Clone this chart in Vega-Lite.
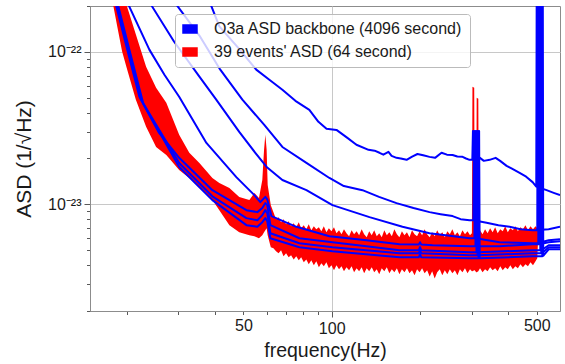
{
"$schema": "https://vega.github.io/schema/vega-lite/v6.json",
"width": 470, "height": 305,
"autosize": {"type": "none"},
"padding": {"left": 90, "top": 6, "right": 5, "bottom": 53},
"config": {
 "view": {"stroke": "#8c8c8c", "strokeWidth": 1},
 "font": "Liberation Sans",
 "axis": {"labelFont": "Liberation Sans", "labelFontSize": 16, "labelColor": "#1a1a1a", "titleFont": "Liberation Sans", "titleFontWeight": "normal", "titleColor": "#1a1a1a", "domainColor": "#8c8c8c", "tickColor": "#595959", "gridColor": "#c8c8c8", "labelOverlap": false, "labelFlush": false}
},
"datasets": {
"red": [
{"f":17.2,"hi":4.05e-22,"lo":2.28e-22},
{"f":18.0,"hi":2.99e-22,"lo":2.02e-22},
{"f":18.6,"hi":2.28e-22,"lo":1.45e-22},
{"f":19.3,"hi":2.38e-22,"lo":1.005e-22},
{"f":20.0,"hi":2.02e-22,"lo":7.88e-23},
{"f":21.5,"hi":1.30e-22,"lo":4.86e-23},
{"f":23.3,"hi":8.0e-23,"lo":3.23e-23},
{"f":25.2,"hi":5.82e-23,"lo":2.38e-23},
{"f":27.3,"hi":4.64e-23,"lo":2.11e-23},
{"f":30.2,"hi":2.86e-23,"lo":1.68e-23},
{"f":32.7,"hi":2.18e-23,"lo":1.49e-23},
{"f":35.4,"hi":1.87e-23,"lo":1.28e-23},
{"f":39.2,"hi":1.49e-23,"lo":1.067e-23},
{"f":41.4,"hi":1.38e-23,"lo":9.17e-24},
{"f":44.8,"hi":1.28e-23,"lo":7.31e-24},
{"f":48.4,"hi":1.117e-23,"lo":6.57e-24},
{"f":52.4,"hi":1.067e-23,"lo":6.28e-24},
{"f":54.5,"hi":1.187e-23,"lo":6.19e-24},
{"f":56.5,"hi":1.10e-23,"lo":6.00e-24},
{"f":58.0,"hi":1.445e-23,"lo":6.28e-24},
{"f":58.8,"hi":2.28e-23,"lo":6.57e-24},
{"f":59.4,"hi":2.86e-23,"lo":6.78e-24},
{"f":60.0,"hi":2.28e-23,"lo":6.98e-24},
{"f":60.5,"hi":1.34e-23,"lo":6.28e-24},
{"f":62,"hi":9.89e-24,"lo":5.24e-24},
{"f":63.3,"hi":8.90e-24,"lo":5.16e-24},
{"f":64.6,"hi":8.00e-24,"lo":4.93e-24},
{"f":65.9,"hi":8.25e-24,"lo":4.78e-24},
{"f":67.2,"hi":7.65e-24,"lo":5.00e-24},
{"f":68.5,"hi":8.00e-24,"lo":4.57e-24},
{"f":69.9,"hi":7.42e-24,"lo":4.78e-24},
{"f":71.3,"hi":7.76e-24,"lo":4.50e-24},
{"f":72.7,"hi":7.20e-24,"lo":4.64e-24},
{"f":74.2,"hi":7.53e-24,"lo":4.36e-24},
{"f":75.7,"hi":7.09e-24,"lo":4.57e-24},
{"f":77.2,"hi":7.65e-24,"lo":4.30e-24},
{"f":78.7,"hi":6.98e-24,"lo":4.50e-24},
{"f":80.3,"hi":7.31e-24,"lo":4.17e-24},
{"f":81.9,"hi":6.88e-24,"lo":4.36e-24},
{"f":83.5,"hi":7.42e-24,"lo":4.05e-24},
{"f":85.2,"hi":6.78e-24,"lo":4.30e-24},
{"f":86.9,"hi":7.20e-24,"lo":3.99e-24},
{"f":88.6,"hi":6.88e-24,"lo":4.24e-24},
{"f":90.4,"hi":7.09e-24,"lo":3.87e-24},
{"f":92.2,"hi":6.67e-24,"lo":4.11e-24},
{"f":94.0,"hi":7.20e-24,"lo":3.93e-24},
{"f":95.9,"hi":6.57e-24,"lo":4.17e-24},
{"f":97.8,"hi":6.98e-24,"lo":3.81e-24},
{"f":99.8,"hi":6.67e-24,"lo":3.99e-24},
{"f":101.8,"hi":7.09e-24,"lo":3.70e-24},
{"f":103.8,"hi":6.47e-24,"lo":3.99e-24},
{"f":105.9,"hi":6.78e-24,"lo":3.75e-24},
{"f":108.0,"hi":6.38e-24,"lo":3.93e-24},
{"f":110.1,"hi":6.88e-24,"lo":3.64e-24},
{"f":112.3,"hi":6.47e-24,"lo":3.87e-24},
{"f":114.6,"hi":6.19e-24,"lo":3.70e-24},
{"f":116.9,"hi":6.78e-24,"lo":3.93e-24},
{"f":119.2,"hi":6.38e-24,"lo":3.59e-24},
{"f":121.6,"hi":6.67e-24,"lo":3.81e-24},
{"f":124.0,"hi":6.28e-24,"lo":3.64e-24},
{"f":126.5,"hi":6.88e-24,"lo":3.87e-24},
{"f":129.0,"hi":6.38e-24,"lo":3.53e-24},
{"f":131.6,"hi":6.09e-24,"lo":3.81e-24},
{"f":134.2,"hi":6.67e-24,"lo":3.64e-24},
{"f":136.9,"hi":6.28e-24,"lo":3.87e-24},
{"f":139.6,"hi":6.78e-24,"lo":3.59e-24},
{"f":142.4,"hi":6.19e-24,"lo":3.75e-24},
{"f":145.2,"hi":6.47e-24,"lo":3.48e-24},
{"f":148.1,"hi":6.09e-24,"lo":3.81e-24},
{"f":151.1,"hi":6.78e-24,"lo":3.64e-24},
{"f":154.1,"hi":6.28e-24,"lo":3.87e-24},
{"f":157.2,"hi":6.57e-24,"lo":3.53e-24},
{"f":160.3,"hi":6.19e-24,"lo":3.75e-24},
{"f":163.5,"hi":6.88e-24,"lo":3.59e-24},
{"f":166.8,"hi":6.38e-24,"lo":3.81e-24},
{"f":170.1,"hi":6.09e-24,"lo":3.48e-24},
{"f":173.5,"hi":6.67e-24,"lo":3.75e-24},
{"f":177.0,"hi":6.28e-24,"lo":3.59e-24},
{"f":180.5,"hi":6.57e-24,"lo":3.81e-24},
{"f":184.1,"hi":6.09e-24,"lo":3.53e-24},
{"f":187.8,"hi":6.78e-24,"lo":3.70e-24},
{"f":191.6,"hi":6.38e-24,"lo":3.43e-24},
{"f":195.4,"hi":6.19e-24,"lo":3.75e-24},
{"f":199.3,"hi":6.67e-24,"lo":3.59e-24},
{"f":203.3,"hi":6.28e-24,"lo":3.81e-24},
{"f":207.3,"hi":6.88e-24,"lo":3.53e-24},
{"f":211.5,"hi":6.38e-24,"lo":3.70e-24},
{"f":215.7,"hi":6.09e-24,"lo":3.37e-24},
{"f":220.0,"hi":6.57e-24,"lo":3.64e-24},
{"f":224.4,"hi":6.19e-24,"lo":3.27e-24},
{"f":228.9,"hi":6.78e-24,"lo":3.59e-24},
{"f":233.5,"hi":6.28e-24,"lo":3.75e-24},
{"f":238.2,"hi":6.57e-24,"lo":3.43e-24},
{"f":242.9,"hi":6.09e-24,"lo":3.70e-24},
{"f":247.8,"hi":6.67e-24,"lo":3.48e-24},
{"f":252.7,"hi":6.38e-24,"lo":3.75e-24},
{"f":257.8,"hi":6.88e-24,"lo":3.53e-24},
{"f":262.9,"hi":6.28e-24,"lo":3.70e-24},
{"f":268.2,"hi":6.57e-24,"lo":3.43e-24},
{"f":273.5,"hi":6.19e-24,"lo":3.75e-24},
{"f":279.0,"hi":6.78e-24,"lo":3.59e-24},
{"f":284.6,"hi":6.38e-24,"lo":3.81e-24},
{"f":290.3,"hi":6.67e-24,"lo":3.53e-24},
{"f":296.1,"hi":6.28e-24,"lo":3.75e-24},
{"f":300.5,"hi":6.47e-24,"lo":3.64e-24},
{"f":301.8,"hi":5.91e-23,"lo":3.64e-24},
{"f":306.0,"hi":5.82e-23,"lo":3.70e-24},
{"f":307.3,"hi":6.38e-24,"lo":3.70e-24},
{"f":310.8,"hi":6.57e-24,"lo":3.59e-24},
{"f":312.0,"hi":5.00e-23,"lo":3.59e-24},
{"f":316.0,"hi":4.93e-23,"lo":3.64e-24},
{"f":317.3,"hi":6.47e-24,"lo":3.70e-24},
{"f":320.3,"hi":6.78e-24,"lo":3.81e-24},
{"f":326.7,"hi":6.38e-24,"lo":3.59e-24},
{"f":333.2,"hi":6.88e-24,"lo":3.75e-24},
{"f":339.9,"hi":6.47e-24,"lo":3.64e-24},
{"f":346.7,"hi":6.98e-24,"lo":3.87e-24},
{"f":353.6,"hi":6.57e-24,"lo":3.70e-24},
{"f":360.7,"hi":7.09e-24,"lo":3.81e-24},
{"f":367.9,"hi":6.47e-24,"lo":3.64e-24},
{"f":375.3,"hi":6.88e-24,"lo":3.93e-24},
{"f":382.8,"hi":6.67e-24,"lo":3.70e-24},
{"f":390.4,"hi":7.20e-24,"lo":3.87e-24},
{"f":398.2,"hi":6.57e-24,"lo":3.75e-24},
{"f":406.2,"hi":6.98e-24,"lo":3.99e-24},
{"f":414.3,"hi":6.78e-24,"lo":3.75e-24},
{"f":422.6,"hi":7.20e-24,"lo":3.93e-24},
{"f":431.1,"hi":6.67e-24,"lo":3.81e-24},
{"f":439.7,"hi":7.09e-24,"lo":4.05e-24},
{"f":448.5,"hi":6.88e-24,"lo":3.87e-24},
{"f":457.5,"hi":7.31e-24,"lo":4.05e-24},
{"f":466.6,"hi":6.78e-24,"lo":3.93e-24},
{"f":475.9,"hi":7.20e-24,"lo":4.17e-24},
{"f":485.4,"hi":6.88e-24,"lo":3.99e-24},
{"f":495.1,"hi":7.20e-24,"lo":4.24e-24},
{"f":502,"hi":6.98e-24,"lo":4.43e-24},
{"f":506,"hi":9.89e-24,"lo":6.28e-24}
],
"blue": [
{"id":"B1","f":35.6,"asd":2.99e-22},{"id":"B1","f":38.9,"asd":1.99e-22},{"id":"B1","f":41.4,"asd":1.47e-22},{"id":"B1","f":47.7,"asd":1.08e-22},{"id":"B1","f":55.3,"asd":7.65e-23},{"id":"B1","f":61.3,"asd":6.57e-23},{"id":"B1","f":67.9,"asd":5.65e-23},{"id":"B1","f":75.2,"asd":4.78e-23},{"id":"B1","f":83.9,"asd":4.17e-23},{"id":"B1","f":90.1,"asd":3.48e-23},{"id":"B1","f":96,"asd":3.13e-23},{"id":"B1","f":103.8,"asd":3.08e-23},{"id":"B1","f":113.1,"asd":2.73e-23},{"id":"B1","f":121.4,"asd":2.46e-23},{"id":"B1","f":133.5,"asd":2.28e-23},{"id":"B1","f":140,"asd":2.25e-23},{"id":"B1","f":145.5,"asd":2.18e-23},{"id":"B1","f":150,"asd":2.12e-23},{"id":"B1","f":156.1,"asd":2.21e-23},{"id":"B1","f":160,"asd":2.08e-23},{"id":"B1","f":166.3,"asd":2.02e-23},{"id":"B1","f":172,"asd":2.0e-23},{"id":"B1","f":180,"asd":1.96e-23},{"id":"B1","f":188,"asd":2.06e-23},{"id":"B1","f":196,"asd":2.14e-23},{"id":"B1","f":205,"asd":2.10e-23},{"id":"B1","f":215.5,"asd":2.05e-23},{"id":"B1","f":225,"asd":2.02e-23},{"id":"B1","f":236.8,"asd":2.18e-23},{"id":"B1","f":247,"asd":2.12e-23},{"id":"B1","f":258.2,"asd":2.11e-23},{"id":"B1","f":268,"asd":2.06e-23},{"id":"B1","f":279.3,"asd":2.05e-23},{"id":"B1","f":287,"asd":2.0e-23},{"id":"B1","f":295,"asd":1.96e-23},{"id":"B1","f":301.5,"asd":1.96e-23},{"id":"B1","f":303,"asd":3.03e-23},{"id":"B1","f":304.5,"asd":1.96e-23},{"id":"B1","f":320,"asd":2.02e-23},{"id":"B1","f":330,"asd":1.93e-23},{"id":"B1","f":345.3,"asd":1.96e-23},{"id":"B1","f":362,"asd":2.02e-23},{"id":"B1","f":375,"asd":1.93e-23},{"id":"B1","f":394.6,"asd":1.79e-23},{"id":"B1","f":410,"asd":1.72e-23},{"id":"B1","f":437,"asd":1.61e-23},{"id":"B1","f":460,"asd":1.52e-23},{"id":"B1","f":484,"asd":1.40e-23},{"id":"B1","f":498,"asd":1.31e-23},{"id":"B1","f":500,"asd":4e-22},{"id":"B1","f":502,"asd":1.30e-23},{"id":"B1","f":540,"asd":1.24e-23},{"id":"B1","f":571,"asd":1.19e-23},{"id":"B1","f":600,"asd":1.15e-23},
{"id":"B2","f":27.9,"asd":2.28e-22},{"id":"B2","f":29.5,"asd":2.05e-22},{"id":"B2","f":35.4,"asd":1.28e-22},{"id":"B2","f":41.7,"asd":7.65e-23},{"id":"B2","f":49.6,"asd":4.86e-23},{"id":"B2","f":58.9,"asd":3.32e-23},{"id":"B2","f":67.9,"asd":2.38e-23},{"id":"B2","f":82.0,"asd":1.87e-23},{"id":"B2","f":98.2,"asd":1.49e-23},{"id":"B2","f":110,"asd":1.32e-23},{"id":"B2","f":127.3,"asd":1.24e-23},{"id":"B2","f":145,"asd":1.12e-23},{"id":"B2","f":166.3,"asd":1.02e-23},{"id":"B2","f":190,"asd":9.46e-24},{"id":"B2","f":215.5,"asd":8.90e-24},{"id":"B2","f":235,"asd":8.63e-24},{"id":"B2","f":258.2,"asd":8.38e-24},{"id":"B2","f":275,"asd":8.0e-24},{"id":"B2","f":295,"asd":7.88e-24},{"id":"B2","f":304,"asd":7.88e-24},{"id":"B2","f":305.5,"asd":3.03e-23},{"id":"B2","f":307,"asd":7.85e-24},{"id":"B2","f":337.3,"asd":7.58e-24},{"id":"B2","f":370,"asd":7.31e-24},{"id":"B2","f":404,"asd":7.13e-24},{"id":"B2","f":440,"asd":6.88e-24},{"id":"B2","f":484,"asd":6.78e-24},{"id":"B2","f":502,"asd":6.78e-24},{"id":"B2","f":504,"asd":4e-22},{"id":"B2","f":506,"asd":6.8e-24},{"id":"B2","f":549,"asd":6.88e-24},{"id":"B2","f":600,"asd":7.13e-24},
{"id":"B3","f":23.5,"asd":2.31e-22},{"id":"B3","f":24.4,"asd":1.99e-22},{"id":"B3","f":29.0,"asd":1.17e-22},{"id":"B3","f":35.4,"asd":6.88e-23},{"id":"B3","f":40.4,"asd":4.86e-23},{"id":"B3","f":48.4,"asd":2.99e-23},{"id":"B3","f":54.9,"asd":2.18e-23},{"id":"B3","f":60,"asd":1.76e-23},{"id":"B3","f":67.9,"asd":1.445e-23},{"id":"B3","f":82.0,"asd":1.24e-23},{"id":"B3","f":100.6,"asd":9.89e-24},{"id":"B3","f":134.5,"asd":8.25e-24},{"id":"B3","f":174.3,"asd":7.13e-24},{"id":"B3","f":215.5,"asd":6.47e-24},{"id":"B3","f":295,"asd":6.00e-24},{"id":"B3","f":306.5,"asd":6.0e-24},{"id":"B3","f":308,"asd":3.03e-23},{"id":"B3","f":309.5,"asd":6.0e-24},{"id":"B3","f":373.6,"asd":5.65e-24},{"id":"B3","f":484,"asd":5.56e-24},{"id":"B3","f":506,"asd":5.56e-24},{"id":"B3","f":508,"asd":4e-22},{"id":"B3","f":510,"asd":5.6e-24},{"id":"B3","f":549,"asd":5.82e-24},{"id":"B3","f":600,"asd":5.91e-24},
{"id":"B4","f":19.6,"asd":2.31e-22},{"id":"B4","f":20.4,"asd":1.99e-22},{"id":"B4","f":23.9,"asd":1.035e-22},{"id":"B4","f":26.9,"asd":7.09e-23},{"id":"B4","f":30.2,"asd":5.08e-23},{"id":"B4","f":37.4,"asd":2.53e-23},{"id":"B4","f":47.3,"asd":1.51e-23},{"id":"B4","f":54.5,"asd":1.15e-23},{"id":"B4","f":57.1,"asd":1.035e-23},{"id":"B4","f":59.4,"asd":1.12e-23},{"id":"B4","f":60.3,"asd":1.08e-23},{"id":"B4","f":62.3,"asd":8.38e-24},{"id":"B4","f":75.8,"asd":7.13e-24},{"id":"B4","f":98.2,"asd":6.19e-24},{"id":"B4","f":131.3,"asd":5.82e-24},{"id":"B4","f":170.2,"asd":5.48e-24},{"id":"B4","f":198,"asd":5.45e-24},{"id":"B4","f":200,"asd":5.65e-24},{"id":"B4","f":202,"asd":5.45e-24},{"id":"B4","f":220.7,"asd":5.40e-24},{"id":"B4","f":295,"asd":5.32e-24},{"id":"B4","f":309,"asd":5.32e-24},{"id":"B4","f":310.5,"asd":3.03e-23},{"id":"B4","f":312,"asd":5.32e-24},{"id":"B4","f":373.6,"asd":5.32e-24},{"id":"B4","f":484,"asd":5.48e-24},{"id":"B4","f":510,"asd":5.48e-24},{"id":"B4","f":512,"asd":4e-22},{"id":"B4","f":514,"asd":5.5e-24},{"id":"B4","f":549,"asd":5.65e-24},{"id":"B4","f":600,"asd":5.74e-24},
{"id":"B5","f":17.7,"asd":2.38e-22},{"id":"B5","f":18.4,"asd":2.02e-22},{"id":"B5","f":20.1,"asd":1.035e-22},{"id":"B5","f":22.1,"asd":5.08e-23},{"id":"B5","f":25.8,"asd":2.94e-23},{"id":"B5","f":30.2,"asd":2.02e-23},{"id":"B5","f":39.2,"asd":1.24e-23},{"id":"B5","f":51.2,"asd":9.17e-24},{"id":"B5","f":55.8,"asd":8.90e-24},{"id":"B5","f":58.0,"asd":9.46e-24},{"id":"B5","f":59.4,"asd":1.02e-23},{"id":"B5","f":60.3,"asd":9.9e-24},{"id":"B5","f":61.8,"asd":7.31e-24},{"id":"B5","f":77.6,"asd":6.00e-24},{"id":"B5","f":100.6,"asd":5.65e-24},{"id":"B5","f":131.3,"asd":5.32e-24},{"id":"B5","f":170.2,"asd":5.00e-24},{"id":"B5","f":198,"asd":5.0e-24},{"id":"B5","f":200,"asd":5.25e-24},{"id":"B5","f":202,"asd":5.0e-24},{"id":"B5","f":295,"asd":4.86e-24},{"id":"B5","f":311.5,"asd":4.86e-24},{"id":"B5","f":313,"asd":3.03e-23},{"id":"B5","f":314.5,"asd":4.86e-24},{"id":"B5","f":484,"asd":5.00e-24},{"id":"B5","f":514,"asd":5.0e-24},{"id":"B5","f":516,"asd":4e-22},{"id":"B5","f":518,"asd":5.0e-24},{"id":"B5","f":549,"asd":5.40e-24},{"id":"B5","f":600,"asd":5.40e-24},
{"id":"B6","f":17.9,"asd":2.38e-22},{"id":"B6","f":18.6,"asd":2.02e-22},{"id":"B6","f":20.4,"asd":1.005e-22},{"id":"B6","f":22.4,"asd":4.86e-23},{"id":"B6","f":30.2,"asd":1.87e-23},{"id":"B6","f":39.2,"asd":1.13e-23},{"id":"B6","f":51.2,"asd":8.13e-24},{"id":"B6","f":55.8,"asd":7.88e-24},{"id":"B6","f":58.0,"asd":8.51e-24},{"id":"B6","f":59.4,"asd":9.17e-24},{"id":"B6","f":60.3,"asd":8.76e-24},{"id":"B6","f":61.8,"asd":6.47e-24},{"id":"B6","f":77.6,"asd":5.56e-24},{"id":"B6","f":100.6,"asd":5.24e-24},{"id":"B6","f":170.2,"asd":4.78e-24},{"id":"B6","f":198,"asd":4.78e-24},{"id":"B6","f":200,"asd":5.0e-24},{"id":"B6","f":202,"asd":4.78e-24},{"id":"B6","f":295,"asd":4.64e-24},{"id":"B6","f":314,"asd":4.64e-24},{"id":"B6","f":315.5,"asd":3.03e-23},{"id":"B6","f":317,"asd":4.64e-24},{"id":"B6","f":484,"asd":4.78e-24},{"id":"B6","f":518,"asd":4.78e-24},{"id":"B6","f":520,"asd":4e-22},{"id":"B6","f":522,"asd":4.8e-24},{"id":"B6","f":549,"asd":5.24e-24},{"id":"B6","f":600,"asd":5.24e-24},
{"id":"B7","f":18.0,"asd":2.38e-22},{"id":"B7","f":18.7,"asd":2.02e-22},{"id":"B7","f":20.6,"asd":9.74e-23},{"id":"B7","f":22.8,"asd":4.57e-23},{"id":"B7","f":30.2,"asd":1.76e-23},{"id":"B7","f":39.2,"asd":1.067e-23},{"id":"B7","f":51.2,"asd":7.31e-24},{"id":"B7","f":55.8,"asd":7.13e-24},{"id":"B7","f":58.0,"asd":7.65e-24},{"id":"B7","f":59.4,"asd":8.13e-24},{"id":"B7","f":60.3,"asd":7.76e-24},{"id":"B7","f":61.8,"asd":6.00e-24},{"id":"B7","f":77.6,"asd":5.24e-24},{"id":"B7","f":100.6,"asd":4.93e-24},{"id":"B7","f":170.2,"asd":4.50e-24},{"id":"B7","f":198,"asd":4.50e-24},{"id":"B7","f":200,"asd":4.72e-24},{"id":"B7","f":202,"asd":4.50e-24},{"id":"B7","f":295,"asd":4.43e-24},{"id":"B7","f":316.5,"asd":4.43e-24},{"id":"B7","f":318,"asd":3.03e-23},{"id":"B7","f":319.5,"asd":4.43e-24},{"id":"B7","f":484,"asd":4.57e-24},{"id":"B7","f":522,"asd":4.57e-24},{"id":"B7","f":524,"asd":4e-22},{"id":"B7","f":526,"asd":4.6e-24},{"id":"B7","f":549,"asd":5.08e-24},{"id":"B7","f":600,"asd":5.08e-24}
]
},
"layer": [
{
 "data": {"name": "red"},
 "mark": {"type": "area", "clip": true, "opacity": 1},
 "encoding": {
  "x": {"field": "f", "type": "quantitative", "scale": {"type": "log", "domain": [15, 600], "nice": false},
   "axis": {"title": "frequency(Hz)", "values": [20,30,40,50,60,70,80,90,100,200,300,400,500],
    "labelExpr": "datum.value == 50 ? '50' : datum.value == 100 ? '100' : datum.value == 500 ? '500' : ''",
    "tickSize": {"condition": {"test": "datum.value == 100", "value": 6}, "value": 3.5},
    "grid": true, "gridOpacity": {"condition": {"test": "datum.value == 100", "value": 1}, "value": 0},
    "labelPadding": 3, "titleFontSize": 19.5, "titleY": 45, "titleBaseline": "alphabetic"}},
  "y": {"field": "hi", "type": "quantitative", "scale": {"type": "log", "domain": [2e-24, 2e-22], "nice": false},
   "axis": {"title": "ASD (1/√Hz)", "values": [2e-24,3e-24,4e-24,5e-24,6e-24,7e-24,8e-24,9e-24,1e-23,2e-23,3e-23,4e-23,5e-23,6e-23,7e-23,8e-23,9e-23,1e-22,2e-22],
    "labelExpr": "abs(log(datum.value)/LN10 + 22) < 0.01 ? '10⁻²²' : abs(log(datum.value)/LN10 + 23) < 0.01 ? '10⁻²³' : ''",
    "tickSize": {"condition": {"test": "abs(log(datum.value)/LN10 - round(log(datum.value)/LN10)) < 0.01", "value": 6}, "value": 3.5},
    "grid": true, "gridOpacity": {"condition": {"test": "abs(log(datum.value)/LN10 - round(log(datum.value)/LN10)) < 0.01", "value": 1}, "value": 0},
    "labelPadding": 3, "titleFontSize": 21, "titleX": -66, "titleY": 152.5, "titleBaseline": "middle"}},
  "y2": {"field": "lo"},
  "color": {"datum": "39 events' ASD (64 second)", "type": "nominal",
   "scale": {"domain": ["O3a ASD backbone (4096 second)", "39 events' ASD (64 second)"], "range": ["#0000ff", "#ff0000"]},
   "legend": {"orient": "none", "legendX": 85, "legendY": 8, "title": null, "labelFont": "Liberation Sans", "labelFontSize": 16, "labelColor": "#1a1a1a", "labelLimit": 400,
    "symbolType": "M-1,-0.57H1V0.57H-1Z", "symbolSize": 196, "padding": 7, "rowPadding": 7, "labelOffset": 16,
    "strokeColor": "#bbbbbb", "fillColor": "rgba(255,255,255,0.8)", "cornerRadius": 3,
    "encode": {"symbols": {"update": {"fill": {"scale": "color", "field": "value"}, "stroke": {"value": "transparent"}, "opacity": {"value": 1}}}}}}
 }
},
{
 "data": {"name": "blue"},
 "mark": {"type": "line", "clip": true, "strokeWidth": 2, "strokeJoin": "round"},
 "encoding": {
  "x": {"field": "f", "type": "quantitative"},
  "y": {"field": "asd", "type": "quantitative", "axis": {"title": "ASD (1/√Hz)"}},
  "detail": {"field": "id"},
  "color": {"datum": "O3a ASD backbone (4096 second)", "type": "nominal"}
 }
}
]
}
